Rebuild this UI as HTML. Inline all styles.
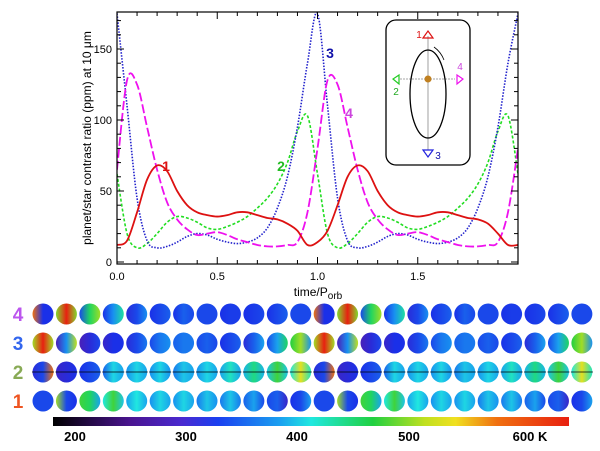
<!DOCTYPE html>
<html><head><meta charset="utf-8"><style>
body{margin:0;background:#fff;}
svg{display:block;font-family:"Liberation Sans",sans-serif;}
</style></head><body>
<svg id="fig" width="600" height="451" viewBox="0 0 600 451">
<defs>
<linearGradient id="cbar" x1="0" x2="1" y1="0" y2="0">
<stop offset="0" stop-color="#000"/>
<stop offset="0.15" stop-color="#4a1490"/>
<stop offset="0.25" stop-color="#4a2ad0"/>
<stop offset="0.32" stop-color="#1a40f0"/>
<stop offset="0.44" stop-color="#1aa0f0"/>
<stop offset="0.5" stop-color="#20e8e0"/>
<stop offset="0.62" stop-color="#20d040"/>
<stop offset="0.72" stop-color="#c0e020"/>
<stop offset="0.78" stop-color="#f0e020"/>
<stop offset="0.86" stop-color="#f07010"/>
<stop offset="1" stop-color="#e82010"/>
</linearGradient>
</defs>
<g id="plot"></g>
<g id="globes"></g>
<rect x="53" y="417" width="516" height="9" fill="url(#cbar)"/>
<g font-size="13" font-weight="bold" text-anchor="middle">
<text x="75" y="441">200</text><text x="186" y="441">300</text><text x="297" y="441">400</text><text x="409" y="441">500</text><text x="530" y="441">600 K</text>
</g>
</svg>
<script>
const tVals=[0,0.05,0.1,0.15,0.2,0.25,0.3,0.35,0.4,0.45,0.5,0.55,0.6,0.65,0.7,0.75,0.8,0.85,0.9,0.95,1.0,1.05,1.1,1.15,1.2,1.25,1.3,1.35,1.4,1.45,1.5,1.55,1.6,1.65,1.7,1.75,1.8,1.85,1.9,1.95,2.0];
const red=[12,15,35,58,68,64,50,40,35,33,32,33,35,35,33,31,30,27,22,12,14,22,40,60,68,64,50,40,35,33,32,33,35,35,33,31,30,27,20,12,12];
const green=[62,20,10,13,20,28,32,31,28,24,23,25,28,32,38,45,55,70,92,103,62,20,10,13,20,28,32,31,28,24,23,25,28,32,38,45,55,70,92,103,62];
const blue=[175,110,45,15,10,11,14,18,20,19,16,14,13,14,17,24,38,60,95,140,175,110,45,15,10,11,14,18,20,19,16,14,13,14,17,24,38,60,95,140,175];
const magenta=[65,128,125,95,65,42,30,23,19,20,21,19,16,14,12,11,11,12,14,35,80,128,125,95,65,42,30,23,19,20,21,19,16,14,12,11,11,12,14,35,80];
const xTicks=[0,0.5,1.0,1.5];
const yTicks=[0,50,100,150];
const NS='http://www.w3.org/2000/svg';
const X0=117,X1=518,Y0=262,PY=1.42;
const xs=t=>X0+t*(X1-X0)/2;
const ys=v=>Y0-v*PY;
function mk(tag,attrs,parent){const e=document.createElementNS(NS,tag);for(const k in attrs)e.setAttribute(k,attrs[k]);parent.appendChild(e);return e;}
const plot=document.getElementById('plot');
const defs=document.querySelector('defs');
const cp=mk('clipPath',{id:'pc'},defs);mk('rect',{x:X0,y:12,width:X1-X0,height:Y0-12+1},cp);
function path(arr,color,dash,w,name){
  const p=arr.map((v,i)=>[xs(tVals[i]),ys(v)]);
  let d='M'+p[0][0]+','+p[0][1];
  for(let i=0;i<p.length-1;i++){const a=p[i-1]||p[i],b=p[i],c=p[i+1],e=p[i+2]||c;
    d+=' C'+(b[0]+(c[0]-a[0])/6)+','+(b[1]+(c[1]-a[1])/6)+' '+(c[0]-(e[0]-b[0])/6)+','+(c[1]-(e[1]-b[1])/6)+' '+c[0]+','+c[1];}
  const el=mk('path',{d:d,fill:'none',stroke:color,'stroke-width':w,'stroke-dasharray':dash,'clip-path':'url(#pc)'},plot);
  
  
}
path(green,'#22dd22','3 2',1.6,'series-2-green');
path(blue,'#2222cc','1.5 1.5',1.6,'series-3-blue');
path(magenta,'#ee11ee','9 3',1.8,'series-4-magenta');
path(red,'#dd1111','',1.8,'series-1-red');
const ax=mk('rect',{x:X0,y:12,width:X1-X0,height:Y0-12+2,fill:'none',stroke:'#000','stroke-width':1.2},plot);


for(let t=0;t<=2.001;t+=0.1){const x=xs(t),L=(Math.round(t*10)%5===0)?7:4;
  mk('line',{x1:x,x2:x,y1:Y0+2,y2:Y0+2-L,stroke:'#000'},plot);mk('line',{x1:x,x2:x,y1:12,y2:12+L,stroke:'#000'},plot);}
for(let v=0;v<=175;v+=10){const y=ys(v),L=(v%50===0)?7:4;
  mk('line',{x1:X0,x2:X0+L,y1:y,y2:y,stroke:'#000'},plot);mk('line',{x1:X1-L,x2:X1,y1:y,y2:y,stroke:'#000'},plot);}
xTicks.forEach(t=>{const e=mk('text',{x:xs(t),y:280,'font-size':11,'text-anchor':'middle'},plot);e.textContent=t.toFixed(1);
  
  });
yTicks.forEach(v=>{const e=mk('text',{x:112,y:ys(v)+4,'font-size':11,'text-anchor':'end'},plot);e.textContent=v;
  
  });
let e=mk('text',{x:0,y:0,'font-size':12,'text-anchor':'middle',transform:'translate(91,138) rotate(-90)'},plot);
e.textContent='planet/star contrast ratio (ppm) at 10 μm';


e=mk('text',{x:318,y:296,'font-size':12,'text-anchor':'middle'},plot);
e.innerHTML='time/P<tspan font-size="10" dy="3">orb</tspan>';


[['1',166,171,'#dd1111'],['2',281,171,'#22bb22'],['3',330,58,'#1111aa'],['4',349,118,'#cc44dd']].forEach(l=>{
  const t=mk('text',{x:l[1],y:l[2],'font-size':14,'font-weight':'bold',fill:l[3],'text-anchor':'middle'},plot);t.textContent=l[0];
  
  });
const ins=mk('g',{},plot);


mk('rect',{x:386,y:20,width:84,height:145,rx:10,fill:'#fff',stroke:'#000','stroke-width':1.3},ins);
mk('line',{x1:428,x2:428,y1:36,y2:150,stroke:'#888','stroke-width':0.8},ins);
mk('line',{x1:400,x2:455,y1:79,y2:79,stroke:'#888','stroke-width':0.8,'stroke-dasharray':'2 1'},ins);
mk('ellipse',{cx:428,cy:94,rx:18,ry:44,fill:'none',stroke:'#000','stroke-width':1.3},ins);
mk('path',{d:'M434,47 Q441,52 444,60',fill:'none',stroke:'#000','stroke-width':0.8},ins);
mk('circle',{cx:428,cy:79,r:3.5,fill:'#c08020'},ins);
mk('path',{d:'M423,38 L428,31 L433,38 Z',fill:'none',stroke:'#dd1111','stroke-width':1.2},ins);
mk('path',{d:'M399,75 L393,79 L399,84 Z',fill:'none',stroke:'#22cc22','stroke-width':1.2},ins);
mk('path',{d:'M457,75 L463,79 L457,84 Z',fill:'none',stroke:'#ee11ee','stroke-width':1.2},ins);
mk('path',{d:'M423,150 L428,157 L433,150 Z',fill:'none',stroke:'#2222dd','stroke-width':1.2},ins);
[['1',419,38,'#dd1111'],['2',396,95,'#22aa22'],['4',460,70,'#cc44dd'],['3',438,159,'#1111aa']].forEach(l=>{
  const t=mk('text',{x:l[1],y:l[2],'font-size':10,fill:l[3],'text-anchor':'middle'},ins);t.textContent=l[0];});

const row4=[[560,290,290],[460,600,460],[300,420,470],[290,330,400],[280,300,330],[290,300,310],[290,310,300],[300,300,300],[290,295,295],[290,295,300],[290,300,310],[300,300,300]];
const row3=[[470,620,470],[260,330,480],[260,280,300],[270,290,290],[280,300,320],[300,320,330],[310,320,320],[300,310,300],[290,300,310],[280,310,340],[300,340,420],[430,470,330]];
const row2=[[280,300,560],[270,280,290],[290,300,310],[310,370,340],[330,370,340],[330,370,330],[320,360,340],[330,370,340],[340,390,340],[350,410,350],[360,440,360],[380,510,390]];
const row1=[[300,300,300],[470,300,290],[440,420,340],[380,440,360],[340,380,340],[330,370,340],[330,370,340],[320,360,330],[320,360,320],[310,340,300],[300,310,270],[290,300,340]];
const rowLabels=['4','3','2','1'];
const stops=[[180,[0,0,0]],[250,[90,26,168]],[290,[26,48,232]],[330,[24,144,240]],[380,[32,232,224]],[430,[32,208,64]],[480,[192,224,32]],[520,[240,224,32]],[560,[240,112,16]],[600,[232,32,16]]];
function cmap(T){if(T<=stops[0][0])return 'rgb(0,0,0)';for(let i=0;i<stops.length-1;i++){const a=stops[i],b=stops[i+1];if(T<=b[0]){const f=(T-a[0])/(b[0]-a[0]);return 'rgb('+a[1].map((c,j)=>Math.round(c+(b[1][j]-c)*f)).join(',')+')';}}return 'rgb(232,32,16)';}
const G=document.getElementById('globes');
const rowsData=[row4,row3,row2,row1],rowY=[314,343,372,401],labC=['#bb55ee','#3366ee','#88aa55','#ee5522'];
let gid=0;
rowsData.forEach((row,r)=>{
  const l=mk('text',{x:18,y:rowY[r]+7,'font-size':19,'font-weight':'bold',fill:labC[r],'text-anchor':'middle'},G);l.textContent=rowLabels[r];
  
  
  for(let k=0;k<24;k++){const d=row[k%12];const id='g'+(gid++);
    const lg=mk('linearGradient',{id:id,x1:0,x2:1,y1:0,y2:0},defs);
    mk('stop',{offset:0,'stop-color':cmap(d[0])},lg);mk('stop',{offset:0.5,'stop-color':cmap(d[1])},lg);mk('stop',{offset:1,'stop-color':cmap(d[2])},lg);
    const c=mk('circle',{cx:43+k*23.43,cy:rowY[r],r:10.5,fill:'url(#'+id+')'},G);
    
    
    if(r===2)mk('line',{x1:32+k*23.43,x2:54+k*23.43,y1:rowY[r],y2:rowY[r],stroke:'#000','stroke-width':0.8},G);
  }
});
</script>
</body></html>
